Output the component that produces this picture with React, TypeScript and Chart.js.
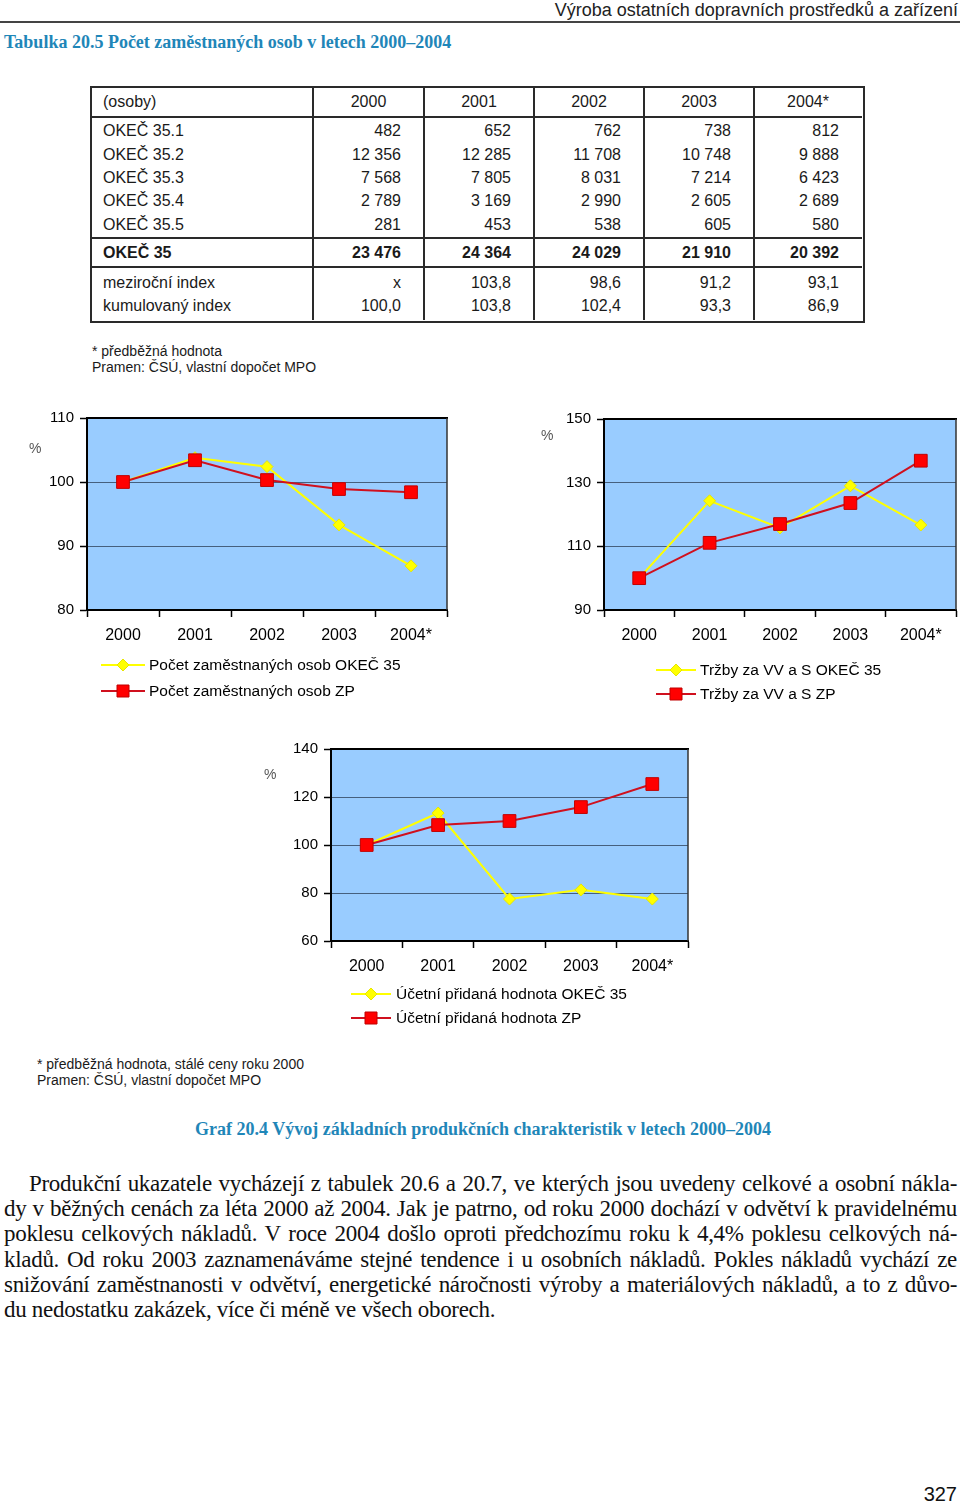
import React, { useEffect, useRef } from "react";
import { Chart, registerables } from "chart.js";
Chart.register(...registerables);
Chart.defaults.font.family = '"Liberation Sans", Arial, sans-serif';

// ---------- data ----------
const years = ["2000", "2001", "2002", "2003", "2004*"];
const tableUnit = "(osoby)";
const rowLabels = ["OKEČ 35.1", "OKEČ 35.2", "OKEČ 35.3", "OKEČ 35.4", "OKEČ 35.5"];
const okec351 = ["482", "652", "762", "738", "812"];
const okec352 = ["12 356", "12 285", "11 708", "10 748", "9 888"];
const okec353 = ["7 568", "7 805", "8 031", "7 214", "6 423"];
const okec354 = ["2 789", "3 169", "2 990", "2 605", "2 689"];
const okec355 = ["281", "453", "538", "605", "580"];
const totalLabel = "OKEČ 35";
const okec35 = ["23 476", "24 364", "24 029", "21 910", "20 392"];
const indexLabels = ["meziroční index", "kumulovaný index"];
const yoyIndex = ["x", "103,8", "98,6", "91,2", "93,1"];
const cumIndex = ["100,0", "103,8", "102,4", "93,3", "86,9"];

const empOkec = [100, 103.8, 102.4, 93.3, 86.9];
const empZp = [100, 103.4, 100.3, 98.9, 98.4];
const salesOkec = [100, 124.3, 115.8, 129.0, 116.7];
const salesZp = [100, 111.1, 117.0, 123.6, 136.9];
const gvaOkec = [100, 113.3, 77.5, 81.3, 77.5];
const gvaZp = [100, 108.3, 110.0, 115.8, 125.4];

const empLabels = ["Počet zaměstnaných osob OKEČ 35", "Počet zaměstnaných osob ZP"];
const salesLabels = ["Tržby za VV a S OKEČ 35", "Tržby za VV a S ZP"];
const gvaLabels = ["Účetní přidaná hodnota OKEČ 35", "Účetní přidaná hodnota ZP"];

const pageHeader = "Výroba ostatních dopravních prostředků a zařízení";
const tableTitle = "Tabulka 20.5 Počet zaměstnaných osob v letech 2000–2004";
const note1 = ["* předběžná hodnota", "Pramen: ČSÚ, vlastní dopočet MPO"];
const note2 = ["* předběžná hodnota, stálé ceny roku 2000", "Pramen: ČSÚ, vlastní dopočet MPO"];
const graphTitle = "Graf 20.4 Vývoj základních produkčních charakteristik v letech 2000–2004";
const paragraph = [
  "Produkční ukazatele vycházejí z tabulek 20.6 a 20.7, ve kterých jsou uvedeny celkové a osobní nákla-",
  "dy v běžných cenách za léta 2000 až 2004. Jak je patrno, od roku 2000 dochází v odvětví k pravidelnému",
  "poklesu celkových nákladů. V roce 2004 došlo oproti předchozímu roku k 4,4% poklesu celkových ná-",
  "kladů. Od roku 2003 zaznamenáváme stejné tendence i u osobních nákladů. Pokles nákladů vychází ze",
  "snižování zaměstnanosti v odvětví, energetické náročnosti výroby a materiálových nákladů, a to z důvo-",
  "du nedostatku zakázek, více či méně ve všech oborech.",
];
const pageNumber = "327";

// ---------- styles ----------
const SANS = '"Liberation Sans", Arial, Helvetica, sans-serif';
const SERIF = '"Liberation Serif", "Times New Roman", serif';
const TEAL = "#1f86b8";
const YELLOW = "#ffff00";
const RED_LINE = "#d0101e";
const RED_FILL = "#ff0000";

const decorPlugin = {
  id: "decor",
  beforeDraw(chart: any) {
    const { ctx, chartArea: a } = chart;
    ctx.save();
    ctx.fillStyle = "#99ccff";
    ctx.fillRect(a.left, a.top, a.right - a.left, a.bottom - a.top);
    ctx.restore();
  },
  afterDraw(chart: any, _args: any, opts: any) {
    const { ctx, chartArea: a } = chart;
    ctx.save();
    ctx.strokeStyle = "#000";
    ctx.lineWidth = 2;
    ctx.beginPath();
    ctx.moveTo(a.left - 1, a.top);
    ctx.lineTo(a.right + 1, a.top);
    ctx.stroke();
    ctx.strokeStyle = "#333";
    ctx.lineWidth = 1.5;
    ctx.beginPath();
    ctx.moveTo(a.right, a.top);
    ctx.lineTo(a.right, a.bottom);
    ctx.stroke();
    ctx.fillStyle = "#555";
    ctx.font = `14px ${SANS}`;
    ctx.textAlign = "left";
    ctx.textBaseline = "middle";
    ctx.fillText("%", opts.pct.x, opts.pct.y);
    const lg = opts.legend;
    chart.data.datasets.forEach((ds: any, i: number) => {
      const y = lg.ys[i];
      ctx.strokeStyle = ds.borderColor;
      ctx.lineWidth = 2;
      ctx.beginPath();
      ctx.moveTo(lg.x1, y);
      ctx.lineTo(lg.x2, y);
      ctx.stroke();
      const mx = (lg.x1 + lg.x2) / 2;
      ctx.fillStyle = ds.pointBackgroundColor;
      ctx.strokeStyle = ds.pointBorderColor;
      ctx.lineWidth = 1;
      ctx.beginPath();
      if (ds.pointStyle === "rectRot") {
        const r = 6;
        ctx.moveTo(mx - r, y);
        ctx.lineTo(mx, y - r);
        ctx.lineTo(mx + r, y);
        ctx.lineTo(mx, y + r);
        ctx.closePath();
      } else {
        const s = 6;
        ctx.rect(mx - s, y - s, 2 * s, 2 * s);
      }
      ctx.fill();
      ctx.stroke();
      ctx.fillStyle = "#000";
      ctx.font = `15.5px ${SANS}`;
      ctx.textAlign = "left";
      ctx.textBaseline = "middle";
      ctx.fillText(ds.label, lg.tx, y + 1);
    });
    ctx.restore();
  },
};

type Area = { l: number; r: number; t: number; b: number };
type LCProps = {
  left: number;
  top: number;
  width: number;
  height: number;
  area: Area;
  yMin: number;
  yMax: number;
  yStep: number;
  a: number[];
  b: number[];
  labels: string[];
  legend: { x1: number; x2: number; tx: number; ys: number[] };
  pct: { x: number; y: number };
};

function LineChart(p: LCProps) {
  const ref = useRef<HTMLCanvasElement>(null);
  useEffect(() => {
    if (!ref.current) return;
    const xAxisH = 40;
    const chart = new Chart(ref.current, {
      type: "line",
      data: {
        labels: years,
        datasets: [
          {
            label: p.labels[0],
            data: p.a,
            borderColor: YELLOW,
            backgroundColor: YELLOW,
            borderWidth: 2,
            pointStyle: "rectRot",
            pointRadius: 6,
            pointBackgroundColor: YELLOW,
            pointBorderColor: "#e6e600",
            pointBorderWidth: 1,
            tension: 0,
            order: 1,
          },
          {
            label: p.labels[1],
            data: p.b,
            borderColor: RED_LINE,
            backgroundColor: RED_FILL,
            borderWidth: 2,
            pointStyle: "rect",
            pointRadius: 9,
            pointBackgroundColor: RED_FILL,
            pointBorderColor: "#c00000",
            pointBorderWidth: 1,
            tension: 0,
            order: 0,
          },
        ],
      },
      options: {
        animation: false,
        responsive: false,
        devicePixelRatio: 1,
        layout: {
          padding: {
            left: 0,
            top: p.area.t,
            right: p.width - p.area.r,
            bottom: p.height - p.area.b - xAxisH,
          },
        },
        plugins: {
          legend: { display: false },
          tooltip: { enabled: false },
          decor: { pct: p.pct, legend: p.legend },
        } as any,
        scales: {
          x: {
            type: "category",
            offset: true,
            grid: {
              offset: true,
              drawOnChartArea: false,
              drawTicks: true,
              tickLength: 7,
              tickColor: "#000",
              tickWidth: 1.5,
            },
            border: { color: "#000", width: 2 },
            ticks: {
              color: "#000",
              font: { size: 16 },
              padding: 9,
              maxRotation: 0,
              autoSkip: false,
            },
            afterFit: (s: any) => {
              s.height = xAxisH;
            },
          },
          y: {
            min: p.yMin,
            max: p.yMax,
            ticks: { stepSize: p.yStep, color: "#000", font: { size: 15 }, padding: 6 },
            grid: {
              color: "#46607e",
              lineWidth: 1,
              tickLength: 7,
              tickColor: "#000",
              tickWidth: 1.5,
            },
            border: { color: "#000", width: 2 },
            afterFit: (s: any) => {
              s.width = p.area.l;
            },
          },
        },
      },
      plugins: [decorPlugin as any],
    });
    return () => chart.destroy();
  }, []);
  return (
    <canvas
      ref={ref}
      width={p.width}
      height={p.height}
      style={{ position: "absolute", left: p.left, top: p.top, width: p.width, height: p.height }}
    />
  );
}

function T(props: {
  x: number;
  y: number;
  children: React.ReactNode;
  align?: "left" | "right" | "center";
  size?: number;
  font?: string;
  bold?: boolean;
  color?: string;
  style?: React.CSSProperties;
}) {
  const lh = 22;
  const align = props.align || "left";
  const st: React.CSSProperties = {
    position: "absolute",
    top: props.y - lh / 2,
    lineHeight: `${lh}px`,
    height: lh,
    whiteSpace: "nowrap",
    fontFamily: props.font || SANS,
    fontSize: props.size || 16,
    fontWeight: props.bold ? "bold" : "normal",
    color: props.color || "#1a1a1a",
    ...props.style,
  };
  if (align === "left") st.left = props.x;
  else if (align === "right") st.right = 960 - props.x;
  else {
    st.left = props.x - 300;
    st.width = 600;
    st.textAlign = "center";
  }
  return <div style={st}>{props.children}</div>;
}

const colEdges = [91, 313, 424, 534, 644, 754, 862];
const tableTop = 87;
const tableBottom = 320;
const hLines = [117, 238, 267];
const dataRowYs = [131, 155, 178, 201, 225];
const totalRowY = 253;
const indexRowYs = [283, 306];

function Table() {
  const LC = "#2a2a2a";
  const w = colEdges[colEdges.length - 1] - colEdges[0];
  const dataRows = [okec351, okec352, okec353, okec354, okec355];
  const els: React.ReactNode[] = [];
  els.push(
    <div
      key="box"
      style={{
        position: "absolute",
        left: colEdges[0] - 1,
        top: tableTop - 1,
        width: w,
        height: tableBottom - tableTop,
        border: `2px solid ${LC}`,
        boxSizing: "content-box",
      }}
    />
  );
  colEdges.slice(1, -1).forEach((x, i) =>
    els.push(
      <div key={"v" + i} style={{ position: "absolute", left: x - 1, top: tableTop, width: 2, height: tableBottom - tableTop, background: LC }} />
    )
  );
  hLines.forEach((y, i) =>
    els.push(
      <div key={"h" + i} style={{ position: "absolute", left: colEdges[0], top: y - 1, width: w, height: 2, background: LC }} />
    )
  );
  els.push(<T key="unit" x={103} y={102}>{tableUnit}</T>);
  years.forEach((yr, j) =>
    els.push(
      <T key={"yr" + j} x={(colEdges[j + 1] + colEdges[j + 2]) / 2} y={102} align="center">
        {yr}
      </T>
    )
  );
  const rowOut = (label: string, vals: string[], y: number, key: string, bold = false) => {
    els.push(<T key={key + "l"} x={103} y={y} bold={bold}>{label}</T>);
    vals.forEach((v, j) =>
      els.push(
        <T key={key + j} x={colEdges[j + 2] - 23} y={y} align="right" bold={bold}>
          {v}
        </T>
      )
    );
  };
  dataRows.forEach((r, i) => rowOut(rowLabels[i], r, dataRowYs[i], "r" + i));
  rowOut(totalLabel, okec35, totalRowY, "tot", true);
  rowOut(indexLabels[0], yoyIndex, indexRowYs[0], "yoy");
  rowOut(indexLabels[1], cumIndex, indexRowYs[1], "cum");
  return <>{els}</>;
}

export default function App() {
  return (
    <div style={{ position: "relative", width: 960, height: 1505, background: "#fff", overflow: "hidden" }}>
      <style>{"body{margin:0;background:#fff}"}</style>
      <T x={958} y={10} align="right" size={18} color="#222">
        {pageHeader}
      </T>
      <div style={{ position: "absolute", left: 0, top: 21, width: 960, height: 2, background: "#444" }} />
      <T x={4} y={42} font={SERIF} size={18} bold color={TEAL}>
        {tableTitle}
      </T>
      <Table />
      <T x={92} y={351} size={14}>{note1[0]}</T>
      <T x={92} y={367} size={14}>{note1[1]}</T>

      <LineChart
        left={20}
        top={400}
        width={440}
        height={310}
        area={{ l: 67, r: 427, t: 18, b: 210 }}
        yMin={80}
        yMax={110}
        yStep={10}
        a={empOkec}
        b={empZp}
        labels={empLabels}
        legend={{ x1: 81, x2: 125, tx: 129, ys: [265, 291] }}
        pct={{ x: 9, y: 49 }}
      />
      <LineChart
        left={530}
        top={400}
        width={444}
        height={310}
        area={{ l: 74, r: 426, t: 19, b: 210 }}
        yMin={90}
        yMax={150}
        yStep={20}
        a={salesOkec}
        b={salesZp}
        labels={salesLabels}
        legend={{ x1: 126, x2: 166, tx: 170, ys: [270, 294] }}
        pct={{ x: 11, y: 36 }}
      />
      <LineChart
        left={250}
        top={730}
        width={450}
        height={300}
        area={{ l: 81, r: 438, t: 19, b: 211 }}
        yMin={60}
        yMax={140}
        yStep={20}
        a={gvaOkec}
        b={gvaZp}
        labels={gvaLabels}
        legend={{ x1: 101, x2: 141, tx: 146, ys: [264, 288] }}
        pct={{ x: 14, y: 45 }}
      />

      <T x={37} y={1064} size={14}>{note2[0]}</T>
      <T x={37} y={1080} size={14}>{note2[1]}</T>
      <T x={483} y={1129} align="center" font={SERIF} size={18} bold color={TEAL}>
        {graphTitle}
      </T>
      {paragraph.map((line, i) => (
        <div
          key={i}
          style={{
            position: "absolute",
            left: i === 0 ? 29 : 4,
            width: i === 0 ? 928 : 953,
            top: 1184 + i * 25.2 - 13,
            height: 26,
            lineHeight: "26px",
            fontFamily: SERIF,
            fontSize: 23,
            letterSpacing: "-0.3px",
            color: "#111",
            whiteSpace: "nowrap",
            textAlign: "justify",
            textAlignLast: i === paragraph.length - 1 ? "left" : "justify",
          }}
        >
          {line}
        </div>
      ))}
      <T x={957} y={1494} align="right" size={20} color="#111">
        {pageNumber}
      </T>
    </div>
  );
}
